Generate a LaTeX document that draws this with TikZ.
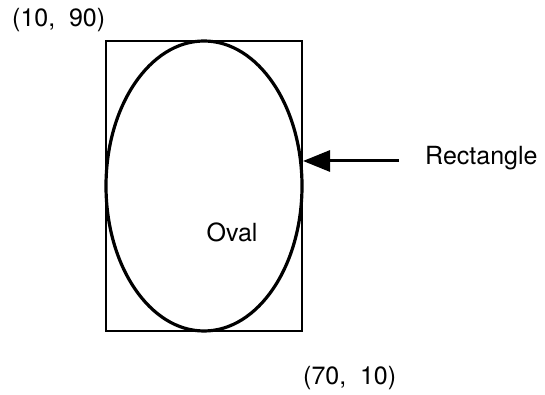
\documentclass[tikz,border=0pt]{standalone}
\usepackage{fontspec}
\setmainfont{TeX Gyre Heros}
\usetikzlibrary{shapes.geometric, arrows.meta, positioning}

\begin{document}
\begin{tikzpicture}[x=1pt, y=1pt,
    box/.style={rectangle, draw, line width=2pt, minimum width=196pt, minimum height=290pt, inner sep=0pt},
    oval/.style={ellipse, draw, line width=3.2pt, minimum width=196pt, minimum height=290pt, inner sep=0pt},
    label/.style={font=\fontsize{25}{29}\selectfont, inner sep=0pt, anchor=west},
    arrow/.style={-{Triangle[length=27pt, width=21pt]}, line width=3pt}
]
\useasboundingbox (0,0) rectangle (545,395);
\node[box] (rect) at (204,209) {};
\node[oval] (ov) at (204,209) {};
\node[label, anchor=center] (ovallbl) at (232,163) {Oval};
\node[label] (topcorner) at (12,375) {(10,\hspace{0.55em}90)};
\node[label] (botcorner) at (303,17) {(70,\hspace{0.55em}10)};
\node[label] (rectlbl) at (425,237) {Rectangle};
\coordinate (tail) at (399,234);

\draw[arrow] (tail) -- (rect.east |- tail);
\end{tikzpicture}
\end{document}
